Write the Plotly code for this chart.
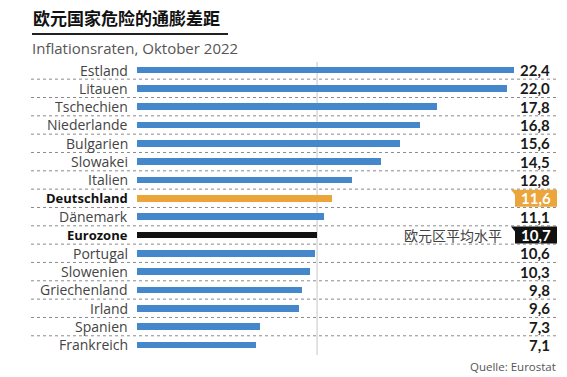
import plotly.graph_objects as go

countries = ["Estland", "Litauen", "Tschechien", "Niederlande", "Bulgarien", "Slowakei",
             "Italien", "Deutschland", "Dänemark", "Eurozone", "Portugal", "Slowenien",
             "Griechenland", "Irland", "Spanien", "Frankreich"]
values = [22.4, 22.0, 17.8, 16.8, 15.6, 14.5, 12.8, 11.6, 11.1, 10.7, 10.6, 10.3, 9.8, 9.6, 7.3, 7.1]
value_labels = ["22,4", "22,0", "17,8", "16,8", "15,6", "14,5", "12,8", "11,6", "11,1", "10,7",
                "10,6", "10,3", "9,8", "9,6", "7,3", "7,1"]
title = "欧元国家危险的通膨差距"
subtitle = "Inflationsraten, Oktober 2022"
avg_label = "欧元区平均水平"
source = "Quelle: Eurostat"

W, H = 567, 377
X0PX, PXU = 137, 16.83       # pixel of value 0, pixels per unit
Y0PX, PXR = 70, 18.33        # pixel of first row, pixels per row

def px2x(p):
    return (p - X0PX) / PXU

def px2y(p):
    return (p - Y0PX) / PXR

BLUE = "#4488cb"
ORANGE = "#eba53a"
BLACK = "#111111"
colors = []
for c in countries:
    if c == "Deutschland":
        colors.append(ORANGE)
    elif c == "Eurozone":
        colors.append(BLACK)
    else:
        colors.append(BLUE)

idx = list(range(len(countries)))
euro_val = values[countries.index("Eurozone")]

fig = go.Figure()
fig.add_trace(go.Bar(x=values, y=idx, orientation="h", marker=dict(color=colors, line=dict(width=0)),
                     width=0.36, hoverinfo="skip"))

shapes = []
# dotted separators
for i in range(len(countries) - 1):
    shapes.append(dict(type="line", xref="x", yref="y", x0=px2x(31), x1=px2x(557),
                       y0=i + 0.5, y1=i + 0.5, layer="below",
                       line=dict(color="#8a8a8a", width=1, dash="dot")))
# eurozone reference line
shapes.append(dict(type="line", xref="x", yref="y", x0=euro_val, x1=euro_val,
                   y0=px2y(62), y1=px2y(355), layer="below",
                   line=dict(color="#cfcfcf", width=1.2)))
# title underline
shapes.append(dict(type="line", xref="paper", yref="paper", x0=32 / W, x1=228 / W,
                   y0=1 - 34 / H, y1=1 - 34 / H, line=dict(color="#222222", width=2)))

LBL_FONT = "Open Sans"
annotations = []
for i, (c, v, lab) in enumerate(zip(countries, values, value_labels)):
    bold = c in ("Deutschland", "Eurozone")
    annotations.append(dict(x=px2x(130), y=i, xref="x", yref="y", text=f"<b>{c}</b>" if bold else c,
                            showarrow=False, xanchor="right", yanchor="middle",
                            font=dict(family=LBL_FONT, size=14 if not bold else 13,
                                      color="#111111" if bold else "#444444")))
    if bold:
        col = ORANGE if c == "Deutschland" else BLACK
        top, bot = i - 8.5 / PXR, i + 8.5 / PXR
        xl, xr = px2x(515), px2x(557)
        xn = px2x(511)
        shapes.append(dict(type="path", xref="x", yref="y",
                           path=f"M {xn} {top} L {xr} {top} L {xr} {bot} L {xl} {bot} L {xl} {top + 5 / PXR} Z",
                           fillcolor=col, line=dict(width=0)))
        annotations.append(dict(x=px2x(553), y=i, xref="x", yref="y", text=f"<b>{lab}</b>",
                                showarrow=False, xanchor="right", yanchor="middle",
                                font=dict(family="Lato", size=15, color="white")))
    else:
        annotations.append(dict(x=px2x(552), y=i, xref="x", yref="y", text=f"<b>{lab}</b>",
                                showarrow=False, xanchor="right", yanchor="middle",
                                font=dict(family="Lato", size=15, color="#1a1a1a")))

ei = countries.index("Eurozone")
annotations.append(dict(x=px2x(504), y=ei, xref="x", yref="y", text=avg_label, showarrow=False,
                        xanchor="right", yanchor="middle",
                        font=dict(family="Noto Sans CJK SC", size=14, color="#444444")))
annotations.append(dict(x=31 / W, y=1 - 18 / H, xref="paper", yref="paper", text=f"<b>{title}</b>",
                        showarrow=False, xanchor="left", yanchor="middle",
                        font=dict(family="Noto Sans CJK SC", size=17, color="#111111")))
annotations.append(dict(x=30 / W, y=1 - 48 / H, xref="paper", yref="paper", text=subtitle,
                        showarrow=False, xanchor="left", yanchor="middle",
                        font=dict(family=LBL_FONT, size=15, color="#555555")))
annotations.append(dict(x=558 / W, y=1 - 366 / H, xref="paper", yref="paper", text=source,
                        showarrow=False, xanchor="right", yanchor="middle",
                        font=dict(family=LBL_FONT, size=11.5, color="#555555")))

fig.update_layout(
    width=W, height=H, margin=dict(l=0, r=0, t=0, b=0),
    paper_bgcolor="white", plot_bgcolor="white", showlegend=False,
    xaxis=dict(range=[px2x(0), px2x(W)], visible=False, fixedrange=True),
    yaxis=dict(range=[px2y(H), px2y(0)], visible=False, fixedrange=True),
    shapes=shapes, annotations=annotations, bargap=0,
)
fig.write_html("out.html", config={"displayModeBar": False},
               post_script="document.body.style.margin='0';document.body.style.overflow='hidden';")
